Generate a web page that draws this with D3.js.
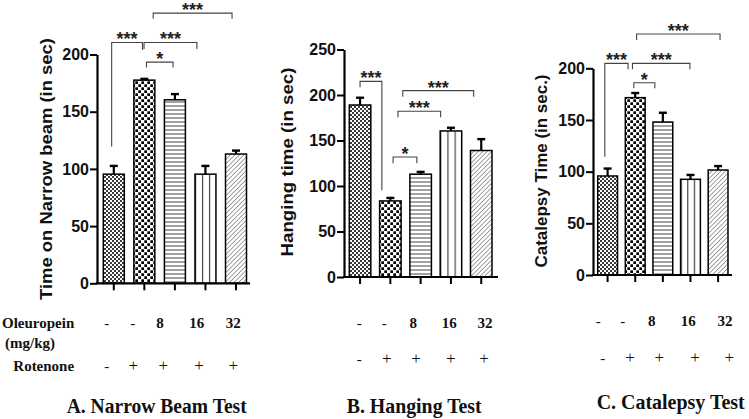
<!DOCTYPE html>
<html>
<head>
<meta charset="utf-8">
<script src="https://cdn.jsdelivr.net/npm/d3@7/dist/d3.min.js"></script>
<style>
  html, body { margin: 0; padding: 0; background: #fff; }
  svg { display: block; }
  .sans { font-family: Arial, "Liberation Sans", Helvetica, sans-serif; font-weight: 700; }
  .serif { font-family: "Times New Roman", "Liberation Serif", serif; }
  text { -webkit-font-smoothing: antialiased; }
</style>
</head>
<body>
<svg id="chart" width="749" height="419"></svg>
<script>
// ---------------- DATA ----------------
const groups = ["Control", "Rotenone", "Rot + Ole 8", "Rot + Ole 16", "Rot + Ole 32"];
const oleuropeinDoses = ["-", "-", "8", "16", "32"];
const rotenoneSigns = ["-", "+", "+", "+", "+"];

// A. Narrow beam test (sec)
const narrowBeamMean = [95.4, 177.6, 160.4, 95.4, 113];
const narrowBeamSEM  = [7.2, 1.1, 5.0, 7.2, 3.0];
const narrowBeamTicks = [0, 50, 100, 150, 200];
// [from group, to group, bracket level, left leg end, right leg end, label]
const narrowBeamSig = [
  [-0.07, 0.94, 210.5, 119.5, 204, "***"],
  [1.07, 1.94, 193.3, 188.6, 188.6, "*"],
  [0.99, 2.72, 210.5, 204.7, 204.7, "***"],
  [1.29, 3.87, 236.2, 231.2, 231.2, "***"]
];

// B. Hanging test (sec)
const hangingMean = [189, 83.6, 113, 160.5, 139];
const hangingSEM  = [8, 3.3, 2.5, 3.5, 12.5];
const hangingTicks = [0, 50, 100, 150, 200, 250];
const hangingSig = [
  [0.0, 0.72, 215, 208.4, 95.3, "***"],
  [1.09, 1.875, 131.8, 124.9, 124.9, "*"],
  [1.25, 2.66, 182.1, 175.6, 175.6, "***"],
  [1.41, 3.75, 204.8, 198.2, 198.2, "***"]
];

// C. Catalepsy test (sec)
const catalepsyMean = [95.8, 171.6, 148, 92.6, 101.6];
const catalepsySEM  = [7.2, 4.5, 9, 4.2, 3.8];
const catalepsyTicks = [0, 50, 100, 150, 200];
const catalepsySig = [
  [-0.1, 0.74, 204.8, 114.5, 199, "***"],
  [0.95, 1.71, 186, 180.6, 180.6, "*"],
  [0.9, 2.98, 204.8, 199, 199, "***"],
  [1.05, 4.07, 233.2, 227.4, 227.4, "***"]
];

const titles = ["A. Narrow Beam Test", "B. Hanging Test", "C.  Catalepsy Test"];
const yLabels = ["Time on Narrow beam (in sec)", "Hanging time (in sec)", "Catalepsy Time (in sec.)"];

// ---------------- LAYOUT ----------------
const panels = [
  { mean: narrowBeamMean, sem: narrowBeamSEM, ticks: narrowBeamTicks, sig: narrowBeamSig,
    axisX: 97, xRange: [103.3, 246.5], pad: 0.313, xEnd: 250, yRange: [283.3, 54.5], yMax: 200,
    labX: 46.5, labY: 169, labSize: 17, labW: 262,
    doseX: [106.7, 132.7, 160, 196.7, 233.3], doseY: 328.3,
    rotX: [106.7, 133.3, 163.3, 199, 233.3], rotY: 371,
    titleX: 66.7, titleY: 413, titleW: 180 },
  { mean: hangingMean, sem: hangingSEM, ticks: hangingTicks, sig: hangingSig,
    axisX: 344, xRange: [349.3, 492], pad: 0.29, xEnd: 498, yRange: [277, 49.5], yMax: 250,
    labX: 287, labY: 162, labSize: 17, labW: 189,
    doseX: [359.3, 384.3, 413.3, 449.3, 485], doseY: 328.3,
    rotX: [359.3, 386.7, 416, 450.7, 484], rotY: 364.3,
    titleX: 346.7, titleY: 413, titleW: 135 },
  { mean: catalepsyMean, sem: catalepsySEM, ticks: catalepsyTicks, sig: catalepsySig,
    axisX: 593, xRange: [597.7, 728], pad: 0.283, xEnd: 732, yRange: [275, 68.3], yMax: 200,
    labX: 541, labY: 171, labSize: 16.5, labW: 193,
    doseX: [598.3, 622.7, 651.7, 688.3, 725], doseY: 325.7,
    rotX: [602.7, 630, 659.3, 695, 729.3], rotY: 362.6,
    titleX: 596.7, titleY: 408.5, titleW: 148 }
];

const svg = d3.select("#chart");
const defs = svg.append("defs");

// ---- patterns ----
const pFine = defs.append("pattern").attr("id", "p0").attr("patternUnits", "userSpaceOnUse")
  .attr("width", 4).attr("height", 4);
pFine.append("rect").attr("width", 4).attr("height", 4).attr("fill", "#fff");
pFine.append("rect").attr("width", 2).attr("height", 2).attr("fill", "#3a3a3a");
pFine.append("rect").attr("x", 2).attr("y", 2).attr("width", 2).attr("height", 2).attr("fill", "#3a3a3a");

const pCheck = defs.append("pattern").attr("id", "p1").attr("patternUnits", "userSpaceOnUse")
  .attr("width", 6).attr("height", 6);
pCheck.append("rect").attr("width", 6).attr("height", 6).attr("fill", "#fff");
pCheck.append("rect").attr("x", 0.3).attr("y", 0.3).attr("width", 2.7).attr("height", 2.7).attr("fill", "#000");
pCheck.append("rect").attr("x", 3.3).attr("y", 3.3).attr("width", 2.7).attr("height", 2.7).attr("fill", "#000");

const pH = defs.append("pattern").attr("id", "p2").attr("patternUnits", "userSpaceOnUse")
  .attr("width", 8).attr("height", 4);
pH.append("rect").attr("width", 8).attr("height", 4).attr("fill", "#fff");
pH.append("line").attr("x1", 0).attr("x2", 8).attr("y1", 2).attr("y2", 2)
  .attr("stroke", "#555").attr("stroke-width", 1.1);

const pV = defs.append("pattern").attr("id", "p3").attr("patternUnits", "objectBoundingBox")
  .attr("width", 1 / 3).attr("height", 1);
pV.append("rect").attr("width", 20).attr("height", 400).attr("fill", "#fff");
pV.append("line").attr("x1", 0.6).attr("x2", 0.6).attr("y1", 0).attr("y2", 400)
  .attr("stroke", "#444").attr("stroke-width", 1.2);

const pD = defs.append("pattern").attr("id", "p4").attr("patternUnits", "userSpaceOnUse")
  .attr("width", 3.2).attr("height", 3.2).attr("patternTransform", "rotate(45)");
pD.append("rect").attr("width", 3.2).attr("height", 3.2).attr("fill", "#fff");
pD.append("line").attr("x1", 0).attr("x2", 0).attr("y1", 0).attr("y2", 3.2)
  .attr("stroke", "#555").attr("stroke-width", 1.1);

const fills = ["url(#p0)", "url(#p1)", "url(#p2)", "url(#p3)", "url(#p4)"];

panels.forEach((P, pi) => {
  const g = svg.append("g");
  const x = d3.scaleBand().domain(groups).range(P.xRange).paddingInner(P.pad).paddingOuter(0);
  const y = d3.scaleLinear().domain([0, P.yMax]).range(P.yRange);
  const cx = i => x(groups[0]) + x.bandwidth() / 2 + i * x.step();

  const data = groups.map((k, i) => ({ k, i, m: P.mean[i], s: P.sem[i] }));

  // bars
  g.selectAll("rect.bar").data(data).join("rect")
    .attr("class", "bar")
    .attr("x", d => x(d.k))
    .attr("y", d => y(d.m))
    .attr("width", x.bandwidth())
    .attr("height", d => y(0) - y(d.m))
    .attr("fill", d => fills[d.i])
    .attr("stroke", "#000").attr("stroke-width", 1.5);

  // error bars (upper)
  const eb = g.selectAll("g.eb").data(data).join("g").attr("class", "eb");
  eb.append("line")
    .attr("x1", d => x(d.k) + x.bandwidth() / 2).attr("x2", d => x(d.k) + x.bandwidth() / 2)
    .attr("y1", d => y(d.m)).attr("y2", d => y(d.m + d.s))
    .attr("stroke", "#000").attr("stroke-width", 2.2);
  eb.append("line")
    .attr("x1", d => x(d.k) + x.bandwidth() / 2 - 4).attr("x2", d => x(d.k) + x.bandwidth() / 2 + 4)
    .attr("y1", d => y(d.m + d.s)).attr("y2", d => y(d.m + d.s))
    .attr("stroke", "#000").attr("stroke-width", 2.4);

  // y axis
  const ya = g.append("g").attr("transform", `translate(${P.axisX},0)`)
    .call(d3.axisLeft(y).tickValues(P.ticks).tickSize(7).tickSizeOuter(0).tickPadding(1));
  ya.attr("font-family", null).attr("font-size", null);
  ya.select(".domain").attr("stroke-width", 2.2);
  ya.selectAll(".tick line").attr("stroke-width", 2);
  ya.selectAll(".tick text")
    .attr("class", "sans")
    .style("font-size", "16px").attr("fill", "#111");

  // x axis
  const xa = g.append("g").attr("transform", `translate(0,${y(0)})`)
    .call(d3.axisBottom(x).tickSize(7).tickSizeOuter(0).tickFormat(""));
  xa.select(".domain").remove();
  xa.selectAll(".tick line").attr("stroke-width", 2);
  g.append("line").attr("x1", P.axisX - 1).attr("x2", P.xEnd)
    .attr("y1", y(0)).attr("y2", y(0)).attr("stroke", "#000").attr("stroke-width", 2.2);

  // y label
  g.append("text")
    .attr("class", "sans")
    .attr("transform", `translate(${P.labX},${P.labY}) rotate(-90)`)
    .attr("text-anchor", "middle").attr("dominant-baseline", "central")
    .style("font-size", P.labSize + "px").attr("fill", "#111")
    .attr("textLength", P.labW).attr("lengthAdjust", "spacingAndGlyphs")
    .text(yLabels[pi]);

  // significance brackets
  P.sig.forEach(s => {
    const [a, b, lvl, la, lb, lab] = s;
    const xa1 = cx(a), xb1 = cx(b);
    g.append("path")
      .attr("d", `M${xa1},${y(la)}V${y(lvl)}H${xb1}V${y(lb)}`)
      .attr("fill", "none").attr("stroke", "#444").attr("stroke-width", 1.1);
    g.append("text")
      .attr("class", "sans")
      .attr("x", (xa1 + xb1) / 2).attr("y", y(lvl) + 3)
      .attr("text-anchor", "middle")
      .style("font-size", "18px").attr("fill", "#222")
      .text(lab);
  });

  // treatment rows
  oleuropeinDoses.forEach((t, i) => {
    g.append("text").attr("class", "serif").attr("x", P.doseX[i]).attr("y", P.doseY)
      .attr("text-anchor", "middle")
      .style("font-weight", t === "-" ? "400" : "700").style("font-size", "15px").attr("fill", "#111")
      .text(t);
  });
  rotenoneSigns.forEach((t, i) => {
    g.append("text").attr("class", "serif").attr("x", P.rotX[i]).attr("y", P.rotY)
      .attr("text-anchor", "middle")
      .style("font-weight", "400").style("font-size", t === "+" ? "17px" : "15px").attr("fill", "#111")
      .text(t);
  });

  // panel title
  g.append("text").attr("class", "serif").attr("x", P.titleX).attr("y", P.titleY)
    .style("font-weight", "700").style("font-size", "20px")
    .attr("textLength", P.titleW).attr("lengthAdjust", "spacingAndGlyphs")
    .attr("fill", "#111").text(titles[pi]);
});

// row headings (left)
[["Oleuropein", 2, 328.3], ["(mg/kg)", 5, 348.3], ["Rotenone", 13.3, 371]].forEach(r => {
  svg.append("text").attr("class", "serif").attr("x", r[1]).attr("y", r[2])
    .style("font-weight", "700").style("font-size", "15px").attr("fill", "#111").text(r[0]);
});
</script>
</body>
</html>
